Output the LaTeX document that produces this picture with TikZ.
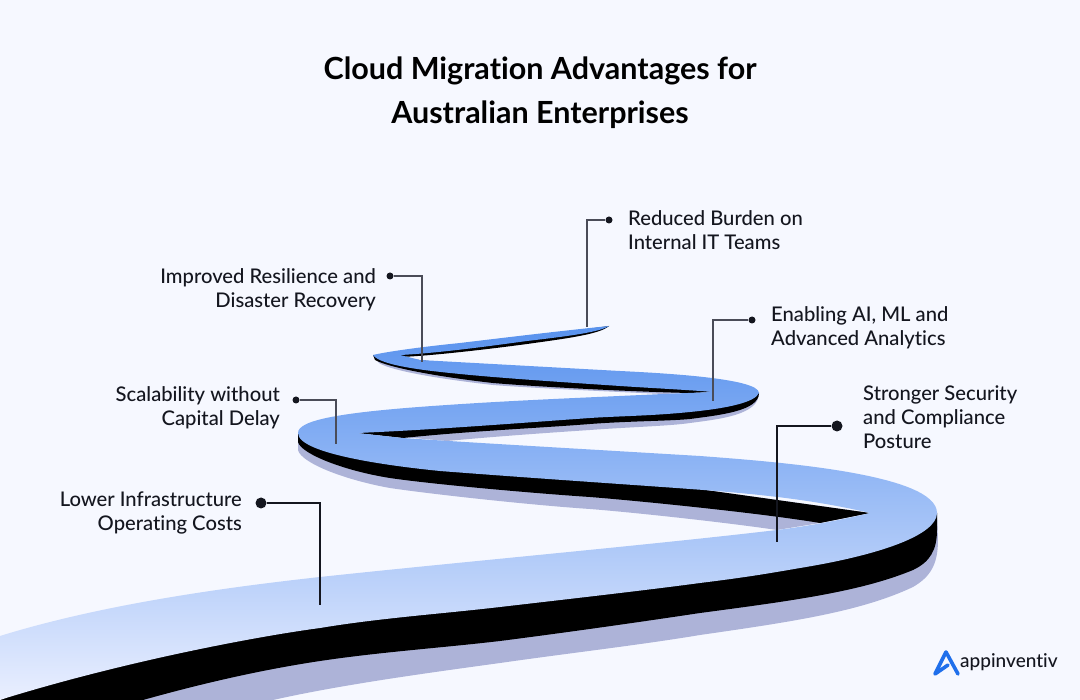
\documentclass[tikz,border=0pt]{standalone}
\usepackage{fontspec}
\setmainfont{Lato}[RawFeature={-liga}]
\newfontfamily\labelfont{Lato Medium}[RawFeature={-liga}]
\definecolor{pagebg}{HTML}{F6F8FF}
\definecolor{shadowcol}{HTML}{ADB3D8}
\definecolor{inkcol}{HTML}{14161F}
\definecolor{thincol}{HTML}{4A4C58}
\definecolor{logocol}{HTML}{1F6FEB}
\tikzset{
  tag/.style = {font = \labelfont\fontsize{20.2}{24}\selectfont, text = inkcol, inner sep = 0pt},
  tagleft/.style = {tag, align = right, anchor = east},
  tagright/.style = {tag, align = left, anchor = west},
  dot/.style = {circle, fill = inkcol, inner sep = 0pt, minimum size = #1},
  leader/.style = {draw = inkcol, line width = 1.7pt},
  thinleader/.style = {draw = thincol, line width = 1.4pt}
}
\begin{document}
\begin{tikzpicture}[x = 1pt, y = -1pt]
  \useasboundingbox (0, 0) rectangle (1080, 700);
  \fill[pagebg] (0, 0) rectangle (1080, 700);
  % draw shadow and black side of the ribbon, lowest band first
  \fill[shadowcol] (447,441) .. controls (500,436) and (560,432) .. (590,430) .. controls (630,427) and (670,426) .. (690,423)
    .. controls (720,419) and (759,415) .. (759,393) -- (357,433) -- cycle;
  \fill[black] (403,438) .. controls (470,431) and (540,428) .. (590,424) .. controls (630,421) and (670,421) .. (690,419)
    .. controls (720,415) and (759,411) .. (759,393) -- (357,433) -- cycle;
  \fill[shadowcol] (298,433) -- (298,450) .. controls (301,463) and (345,480) .. (390,488) .. controls (430,494) and (530,505) .. (590,509)
    .. controls (640,513) and (730,523) .. (777,530) -- (820,523) -- (870,513) -- cycle;
  \fill[black] (298,433) -- (298,442) .. controls (301,454) and (345,471) .. (390,478) .. controls (430,484) and (530,493) .. (590,497)
    .. controls (640,501) and (760,513) .. (820,523) -- (870,513) -- cycle;
  \fill[shadowcol] (273,700) .. controls (340,685) and (420,674) .. (500,663) .. controls (570,653) and (640,645) .. (700,635)
    .. controls (790,622) and (860,612) .. (913,587) .. controls (930,577) and (938,565) .. (938,540) -- (937,513)
    -- (320,610) -- (160,640) -- (0,690) -- (0,700) -- cycle;
  \fill[black] (143,700) .. controls (200,684) and (260,670) .. (320,661) .. controls (380,652) and (440,648) .. (500,641)
    .. controls (570,632) and (640,622) .. (700,613) .. controls (790,601) and (860,592) .. (913,570) .. controls (930,562) and (937,550) .. (937,530)
    -- (937,513) -- (320,610) -- (160,640) -- (0,690) -- (0,700) -- cycle;
  \fill[shadowcol] (379,363) .. controls (392,371) and (440,379) .. (493,385) .. controls (530,388) and (620,392) .. (663,394)
    -- (713,392) -- (373,355) -- cycle;
  \fill[black] (375,360) .. controls (390,368) and (440,377) .. (493,383) .. controls (540,387) and (640,392) .. (690,393)
    -- (713,392) -- (373,355) -- cycle;
  \fill[black] (400,357) .. controls (430,356) and (490,349) .. (527,344) .. controls (570,338) and (600,334) .. (609,326) -- (400,355) -- cycle;
  % draw top of the ribbon
  \shade[top color = {rgb,255:red,88;green,146;blue,238}, middle color = {rgb,255:red,160;green,192;blue,248},
  bottom color = {rgb,255:red,234;green,239;blue,255}]
    (0,636) .. controls (100,605) and (220,588) .. (320,577) .. controls (450,563) and (650,545) .. (777,530)
    .. controls (810,526) and (850,518) .. (870,513)
    .. controls (815,500) and (760,494) .. (690,489) .. controls (650,486) and (530,478) .. (440,471)
    .. controls (400,467) and (298,455) .. (298,433)
    .. controls (298,420) and (340,412) .. (447,405) .. controls (520,400) and (600,397) .. (663,394) -- (713,392)
    .. controls (690,390) and (650,388) .. (620,386) .. controls (560,382) and (500,378) .. (460,374)
    .. controls (430,371) and (380,366) .. (373,355)
    .. controls (385,352) and (420,347) .. (460,343) .. controls (510,337) and (560,331) .. (609,326)
    .. controls (600,332) and (570,336) .. (527,341) .. controls (490,346) and (440,353) .. (400,355)
    -- (420,360) -- (620,371) .. controls (660,373) and (759,378) .. (759,393)
    .. controls (755,402) and (730,408) .. (690,412) .. controls (650,416) and (620,416) .. (590,418)
    .. controls (520,423) and (430,430) .. (357,433)
    -- (403,438) .. controls (460,442) and (600,450) .. (700,456) .. controls (780,462) and (937,474) .. (937,513)
    .. controls (937,535) and (880,555) .. (800,568) .. controls (760,575) and (740,578) .. (700,583)
    .. controls (640,591) and (560,600) .. (500,607) .. controls (440,614) and (380,618) .. (320,628)
    .. controls (260,636) and (130,660) .. (6,698) -- (0,700) -- cycle;
  % title
  \node[font = \bfseries\fontsize{30.5}{44}\selectfont, align = center, text = black] (title)
  at (540, 93) {Cloud Migration Advantages for\\Australian Enterprises};
  % labels
  \node[tagleft] (lower) at (242, 513) {Lower Infrastructure\\Operating Costs};
  \node[tagleft] (scale) at (280, 408) {Scalability without\\Capital Delay};
  \node[tagleft] (resil) at (376, 290) {Improved Resilience and\\Disaster Recovery};
  \node[tagright] (burden) at (628, 230) {Reduced Burden on\\Internal IT Teams};
  \node[tagright] (analytics) at (771, 328) {Enabling AI, ML and\\Advanced Analytics};
  \node[tagright] (secure) at (863, 417) {Stronger Security\\and Compliance\\Posture};
  % dots and leader lines
  \node[dot = 11pt] (lowerdot) at (261, 503) {};
  \node[dot = 7pt] (scaledot) at (296, 400) {};
  \node[dot = 7pt] (resildot) at (390, 276) {};
  \node[dot = 7pt] (burdendot) at (609, 220) {};
  \node[dot = 7pt] (analyticsdot) at (752, 320) {};
  \node[dot = 11pt] (securedot) at (837, 426) {};
  \coordinate (lowerend) at (320, 605);
  \coordinate (scaleend) at (336, 444);
  \coordinate (resilend) at (422, 362);
  \coordinate (burdenend) at (587, 327);
  \coordinate (analyticsend) at (713, 401);
  \coordinate (secureend) at (777, 542);
  \draw[leader] (lowerdot) -| (lowerend);
  \draw[thinleader] (scaledot) -| (scaleend);
  \draw[thinleader] (resildot) -| (resilend);
  \draw[thinleader] (burdendot) -| (burdenend);
  \draw[thinleader] (analyticsdot) -| (analyticsend);
  \draw[leader] (securedot) -| (secureend);
  % logo
  \draw[logocol, line width = 3.6pt, line join = round, line cap = round]
  (948, 665) -- (935, 674) -- (946, 652) -- (958, 674);
  \node[font = \labelfont\fontsize{19}{24}\selectfont, text = inkcol, inner sep = 0pt, anchor = base west]
  (brand) at (960, 667) {appinventiv};
\end{tikzpicture}
\end{document}
